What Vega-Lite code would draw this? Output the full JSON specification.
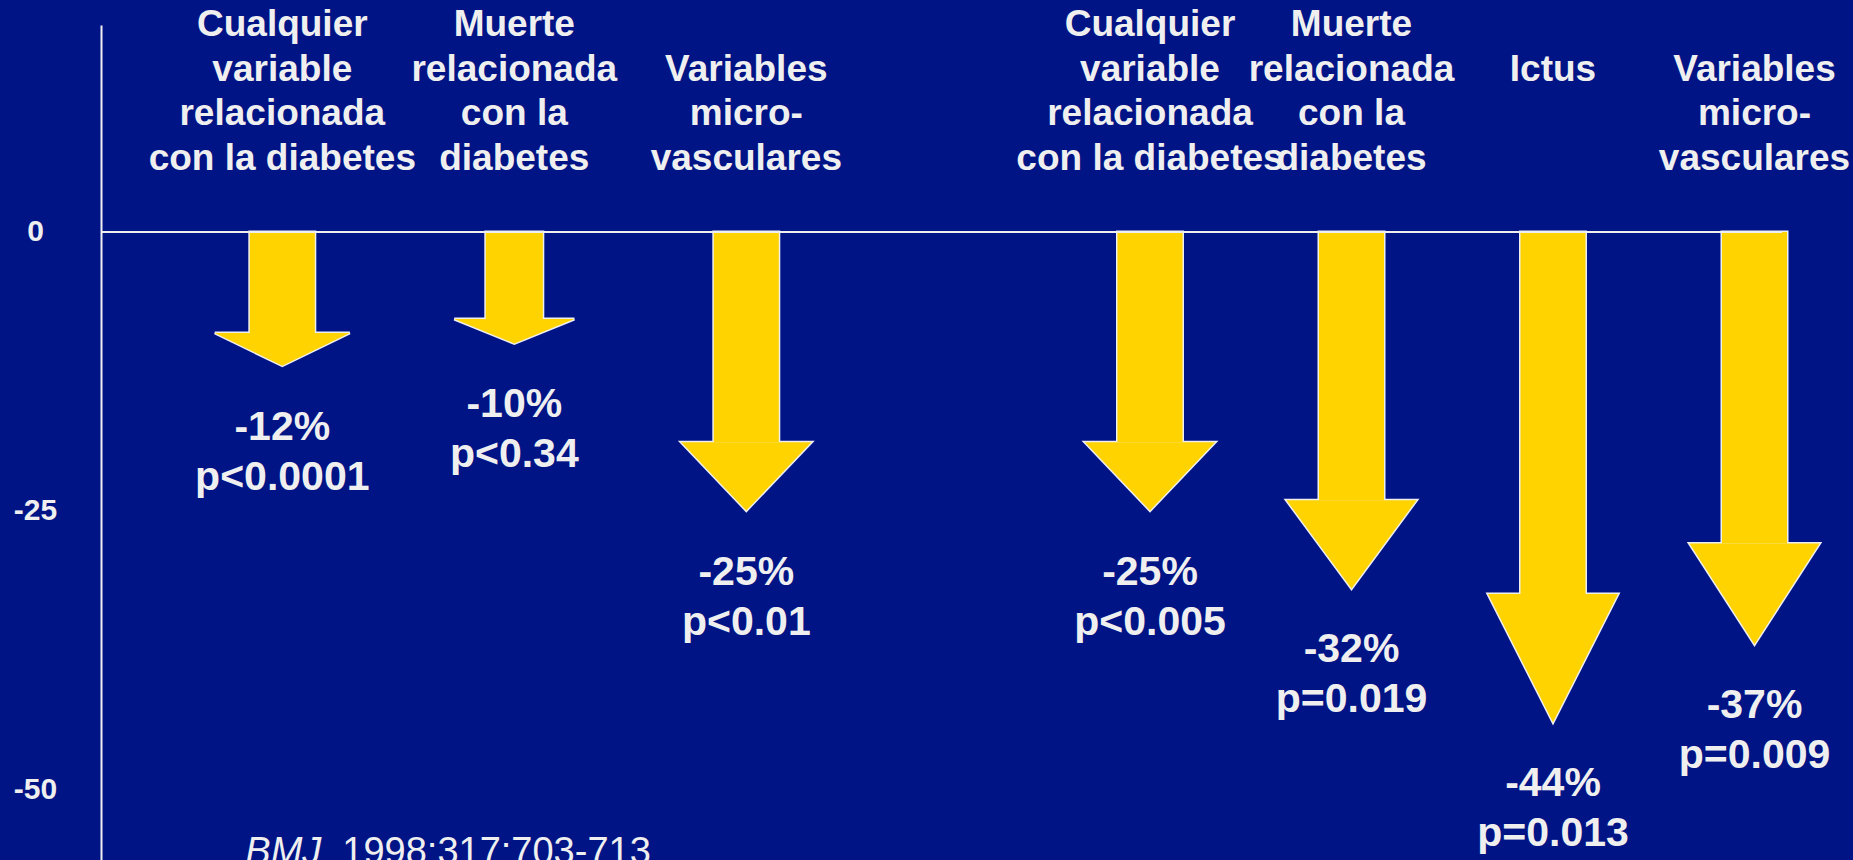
{
  "$schema": "https://vega.github.io/schema/vega-lite/v6.json",
  "width": 1681,
  "height": 835,
  "autosize": {"type": "none"},
  "padding": {"left": 101, "top": 25, "right": 71, "bottom": 0},
  "background": "#001486",
  "config": {
    "view": {"stroke": null},
    "font": "Liberation Sans",
    "axis": {
      "labelFont": "Liberation Sans",
      "labelFontSize": 30,
      "labelFontWeight": "bold",
      "labelColor": "#EFEFEF",
      "labelAlign": "center",
      "labelBaseline": "middle",
      "labelPadding": 66,
      "labelExpr": "'' + datum.value",
      "ticks": false,
      "grid": false,
      "domainColor": "#EFEFEF",
      "domainWidth": 2
    }
  },
  "data": {
    "values": [
      {"grupo": "g1", "id": "A1", "categoria": "Cualquier\nvariable\nrelacionada\ncon la diabetes", "cambio": -12, "inicio_punta": -9.07, "etiqueta": "-12%\np<0.0001"},
      {"grupo": "g1", "id": "A2", "categoria": "Muerte\nrelacionada\ncon la\ndiabetes", "cambio": -10, "inicio_punta": -7.82, "etiqueta": "-10%\np<0.34"},
      {"grupo": "g1", "id": "A3", "categoria": "\nVariables\nmicro-\nvasculares", "cambio": -25, "inicio_punta": -18.87, "etiqueta": "-25%\np<0.01"},
      {"grupo": "g2", "id": "A4", "categoria": "Cualquier\nvariable\nrelacionada\ncon la diabetes", "cambio": -25, "inicio_punta": -18.87, "etiqueta": "-25%\np<0.005"},
      {"grupo": "g2", "id": "A5", "categoria": "Muerte\nrelacionada\ncon la\ndiabetes", "cambio": -32, "inicio_punta": -24.07, "etiqueta": "-32%\np=0.019"},
      {"grupo": "g2", "id": "A6", "categoria": "\n\n\nIctus", "cambio": -44, "inicio_punta": -32.49, "etiqueta": "-44%\np=0.013"},
      {"grupo": "g2", "id": "A7", "categoria": "\nVariables\nmicro-\nvasculares", "cambio": -37, "inicio_punta": -27.97, "etiqueta": "-37%\np=0.009"}
    ]
  },
  "layer": [
    {
      "data": {"values": [{"referencia": 0}]},
      "mark": {"type": "rule", "stroke": "#EFEFEF", "strokeWidth": 0, "opacity": 0},
      "encoding": {
        "y": {"field": "referencia", "type": "quantitative", "scale": {"domain": [-56.37, 18.58], "nice": false, "zero": false}, "axis": {"values": [0, -25, -50], "title": null, "orient": "left"}}
      }
    },
    {
      "transform": [{"filter": "datum.grupo === 'g1'"}],
      "encoding": {
        "x": {"field": "id", "type": "nominal", "axis": null, "sort": null,
          "scale": {"type": "band", "domain": ["A1", "A2", "A3"], "range": [65.3, 761.3], "paddingInner": 0, "paddingOuter": 0, "round": false}}
      },
      "layer": [
        {
          "mark": {"type": "bar", "fill": "#FFD300", "stroke": "#EFEFEF", "strokeWidth": 3},
          "encoding": {
            "y": {"field": "inicio_punta", "type": "quantitative", "scale": {"domain": [-56.37, 18.58], "nice": false, "zero": false}, "axis": {"values": [0, -25, -50], "title": null, "orient": "left"}},
            "y2": {"datum": 0},
            "size": {"field": "id", "type": "ordinal", "legend": null, "scale": {"type": "ordinal", "domain": ["A1", "A2", "A3", "A4", "A5", "A6", "A7"], "range": [65, 57, 65, 65, 65, 65, 65]}}
          }
        },
        {
          "mark": {"type": "point", "filled": true, "size": 16900, "opacity": 1, "fill": "#FFD300", "stroke": "#EFEFEF", "strokeWidth": 3},
          "encoding": {
            "y": {"field": "cambio", "type": "quantitative", "scale": {"domain": [-56.37, 18.58], "nice": false, "zero": false}, "axis": {"values": [0, -25, -50], "title": null, "orient": "left"}},
            "shape": {"field": "id", "type": "nominal", "legend": null, "scale": {"domain": ["A1", "A2", "A3", "A4", "A5", "A6", "A7"], "range": ["M-1.038,-0.503L1.038,-0.503L0,0Z", "M-0.923,-0.374L0.923,-0.374L0,0Z", "M-1,-1.051L1,-1.051L0,0Z", "M-1,-1.051L1,-1.051L0,0Z", "M-1,-1.358L1,-1.358L0,0Z", "M-1,-1.974L1,-1.974L0,0Z", "M-1,-1.548L1,-1.548L0,0Z"]}}
          }
        },
        {
          "mark": {"type": "bar", "fill": "#FFD300", "strokeWidth": 0},
          "encoding": {
            "y": {"field": "inicio_punta", "type": "quantitative", "scale": {"domain": [-56.37, 18.58], "nice": false, "zero": false}, "axis": {"values": [0, -25, -50], "title": null, "orient": "left"}},
            "y2": {"datum": 0},
            "size": {"field": "id", "type": "ordinal", "legend": null, "scale": {"type": "ordinal", "domain": ["A1", "A2", "A3", "A4", "A5", "A6", "A7"], "range": [65, 57, 65, 65, 65, 65, 65]}}
          }
        },
        {
          "mark": {"type": "point", "filled": true, "size": 16900, "opacity": 1, "fill": "#FFD300", "strokeWidth": 0},
          "encoding": {
            "y": {"field": "cambio", "type": "quantitative", "scale": {"domain": [-56.37, 18.58], "nice": false, "zero": false}, "axis": {"values": [0, -25, -50], "title": null, "orient": "left"}},
            "shape": {"field": "id", "type": "nominal", "legend": null, "scale": {"domain": ["A1", "A2", "A3", "A4", "A5", "A6", "A7"], "range": ["M-1.038,-0.503L1.038,-0.503L0,0Z", "M-0.923,-0.374L0.923,-0.374L0,0Z", "M-1,-1.051L1,-1.051L0,0Z", "M-1,-1.051L1,-1.051L0,0Z", "M-1,-1.358L1,-1.358L0,0Z", "M-1,-1.974L1,-1.974L0,0Z", "M-1,-1.548L1,-1.548L0,0Z"]}}
          }
        },
        {
          "mark": {"type": "text", "font": "Liberation Sans", "fontSize": 41, "fontWeight": "bold", "fill": "#EFEFEF", "lineBreak": "\n", "lineHeight": 50, "baseline": "alphabetic", "align": "center", "dy": 74},
          "encoding": {
            "y": {"field": "cambio", "type": "quantitative", "scale": {"domain": [-56.37, 18.58], "nice": false, "zero": false}, "axis": {"values": [0, -25, -50], "title": null, "orient": "left"}},
            "text": {"field": "etiqueta"}
          }
        },
        {
          "mark": {"type": "text", "font": "Liberation Sans", "fontSize": 37, "fontWeight": "bold", "fill": "#EFEFEF", "lineBreak": "\n", "lineHeight": 44.5, "baseline": "alphabetic", "align": "center"},
          "encoding": {
            "y": {"datum": 17.55, "type": "quantitative", "scale": {"domain": [-56.37, 18.58], "nice": false, "zero": false}, "axis": {"values": [0, -25, -50], "title": null, "orient": "left"}},
            "text": {"field": "categoria"}
          }
        },
        {
          "data": {"values": [{"revista": "BMJ", "cita": "1998;317:703-713"}]},
          "mark": {"type": "text", "font": "Liberation Sans", "fontSize": 38, "fontStyle": "italic", "fill": "#EFEFEF", "baseline": "alphabetic", "align": "left", "dx": -37},
          "encoding": {
            "x": {"datum": "A1", "type": "nominal"},
            "y": {"datum": -56.73, "type": "quantitative", "scale": {"domain": [-56.37, 18.58], "nice": false, "zero": false}, "axis": {"values": [0, -25, -50], "title": null, "orient": "left"}},
            "text": {"field": "revista"}
          }
        },
        {
          "data": {"values": [{"revista": "BMJ", "cita": "1998;317:703-713"}]},
          "mark": {"type": "text", "font": "Liberation Sans", "fontSize": 38, "fill": "#EFEFEF", "baseline": "alphabetic", "align": "left", "dx": 60},
          "encoding": {
            "x": {"datum": "A1", "type": "nominal"},
            "y": {"datum": -56.73, "type": "quantitative", "scale": {"domain": [-56.37, 18.58], "nice": false, "zero": false}, "axis": {"values": [0, -25, -50], "title": null, "orient": "left"}},
            "text": {"field": "cita"}
          }
        }
      ]
    },
    {
      "transform": [{"filter": "datum.grupo === 'g2'"}],
      "encoding": {
        "x": {"field": "id", "type": "nominal", "axis": null, "sort": null,
          "scale": {"type": "band", "domain": ["A4", "A5", "A6", "A7"], "range": [948.25, 1754.25], "paddingInner": 0, "paddingOuter": 0, "round": false}}
      },
      "layer": [
        {
          "mark": {"type": "bar", "fill": "#FFD300", "stroke": "#EFEFEF", "strokeWidth": 3},
          "encoding": {
            "y": {"field": "inicio_punta", "type": "quantitative", "scale": {"domain": [-56.37, 18.58], "nice": false, "zero": false}, "axis": {"values": [0, -25, -50], "title": null, "orient": "left"}},
            "y2": {"datum": 0},
            "size": {"field": "id", "type": "ordinal", "legend": null, "scale": {"type": "ordinal", "domain": ["A1", "A2", "A3", "A4", "A5", "A6", "A7"], "range": [65, 57, 65, 65, 65, 65, 65]}}
          }
        },
        {
          "mark": {"type": "point", "filled": true, "size": 16900, "opacity": 1, "fill": "#FFD300", "stroke": "#EFEFEF", "strokeWidth": 3},
          "encoding": {
            "y": {"field": "cambio", "type": "quantitative", "scale": {"domain": [-56.37, 18.58], "nice": false, "zero": false}, "axis": {"values": [0, -25, -50], "title": null, "orient": "left"}},
            "shape": {"field": "id", "type": "nominal", "legend": null, "scale": {"domain": ["A1", "A2", "A3", "A4", "A5", "A6", "A7"], "range": ["M-1.038,-0.503L1.038,-0.503L0,0Z", "M-0.923,-0.374L0.923,-0.374L0,0Z", "M-1,-1.051L1,-1.051L0,0Z", "M-1,-1.051L1,-1.051L0,0Z", "M-1,-1.358L1,-1.358L0,0Z", "M-1,-1.974L1,-1.974L0,0Z", "M-1,-1.548L1,-1.548L0,0Z"]}}
          }
        },
        {
          "mark": {"type": "bar", "fill": "#FFD300", "strokeWidth": 0},
          "encoding": {
            "y": {"field": "inicio_punta", "type": "quantitative", "scale": {"domain": [-56.37, 18.58], "nice": false, "zero": false}, "axis": {"values": [0, -25, -50], "title": null, "orient": "left"}},
            "y2": {"datum": 0},
            "size": {"field": "id", "type": "ordinal", "legend": null, "scale": {"type": "ordinal", "domain": ["A1", "A2", "A3", "A4", "A5", "A6", "A7"], "range": [65, 57, 65, 65, 65, 65, 65]}}
          }
        },
        {
          "mark": {"type": "point", "filled": true, "size": 16900, "opacity": 1, "fill": "#FFD300", "strokeWidth": 0},
          "encoding": {
            "y": {"field": "cambio", "type": "quantitative", "scale": {"domain": [-56.37, 18.58], "nice": false, "zero": false}, "axis": {"values": [0, -25, -50], "title": null, "orient": "left"}},
            "shape": {"field": "id", "type": "nominal", "legend": null, "scale": {"domain": ["A1", "A2", "A3", "A4", "A5", "A6", "A7"], "range": ["M-1.038,-0.503L1.038,-0.503L0,0Z", "M-0.923,-0.374L0.923,-0.374L0,0Z", "M-1,-1.051L1,-1.051L0,0Z", "M-1,-1.051L1,-1.051L0,0Z", "M-1,-1.358L1,-1.358L0,0Z", "M-1,-1.974L1,-1.974L0,0Z", "M-1,-1.548L1,-1.548L0,0Z"]}}
          }
        },
        {
          "mark": {"type": "text", "font": "Liberation Sans", "fontSize": 41, "fontWeight": "bold", "fill": "#EFEFEF", "lineBreak": "\n", "lineHeight": 50, "baseline": "alphabetic", "align": "center", "dy": 74},
          "encoding": {
            "y": {"field": "cambio", "type": "quantitative", "scale": {"domain": [-56.37, 18.58], "nice": false, "zero": false}, "axis": {"values": [0, -25, -50], "title": null, "orient": "left"}},
            "text": {"field": "etiqueta"}
          }
        },
        {
          "mark": {"type": "text", "font": "Liberation Sans", "fontSize": 37, "fontWeight": "bold", "fill": "#EFEFEF", "lineBreak": "\n", "lineHeight": 44.5, "baseline": "alphabetic", "align": "center"},
          "encoding": {
            "y": {"datum": 17.55, "type": "quantitative", "scale": {"domain": [-56.37, 18.58], "nice": false, "zero": false}, "axis": {"values": [0, -25, -50], "title": null, "orient": "left"}},
            "text": {"field": "categoria"}
          }
        }
      ]
    },
    {
      "data": {"values": [{"referencia": 0}]},
      "mark": {"type": "rule", "stroke": "#EFEFEF", "strokeWidth": 2},
      "encoding": {
        "y": {"field": "referencia", "type": "quantitative", "scale": {"domain": [-56.37, 18.58], "nice": false, "zero": false}, "axis": {"values": [0, -25, -50], "title": null, "orient": "left"}}
      }
    }
  ],
  "resolve": {"scale": {"x": "independent"}}
}
